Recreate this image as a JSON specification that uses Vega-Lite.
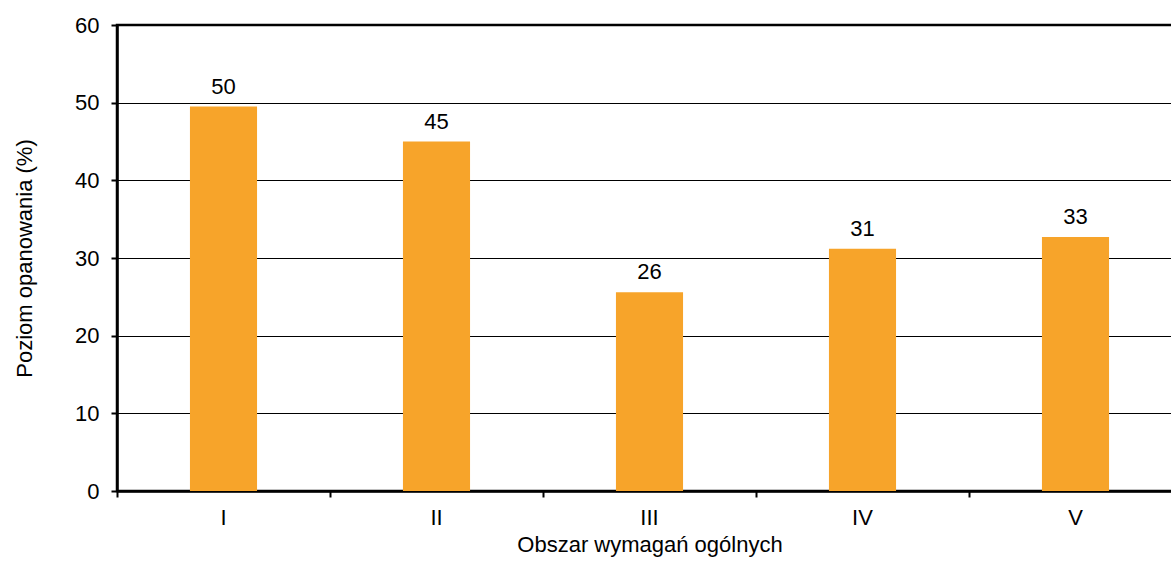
{
  "$schema": "https://vega.github.io/schema/vega-lite/v6.json",
  "autosize": {"type": "none"},
  "width": 1065,
  "height": 466,
  "padding": {"left": 117, "top": 25, "right": 0, "bottom": 70},
  "background": "white",
  "config": {
    "font": "Liberation Sans",
    "view": {"stroke": "black", "strokeWidth": 2.5}
  },
  "data": {
    "values": [
      {"obszar": "I", "value": 49.5, "label": "50"},
      {"obszar": "II", "value": 45.0, "label": "45"},
      {"obszar": "III", "value": 25.6, "label": "26"},
      {"obszar": "IV", "value": 31.2, "label": "31"},
      {"obszar": "V", "value": 32.7, "label": "33"}
    ]
  },
  "encoding": {
    "x": {
      "field": "obszar",
      "type": "nominal",
      "sort": null,
      "scale": {"paddingInner": 0, "paddingOuter": 0},
      "axis": {
        "title": "Obszar wymagań ogólnych",
        "titleFontSize": 22,
        "titleFontWeight": "normal",
        "titleColor": "black",
        "titlePadding": 6,
        "labelAngle": 0,
        "labelFontSize": 22,
        "labelColor": "black",
        "labelPadding": 10,
        "bandPosition": 0,
        "ticks": true,
        "tickColor": "black",
        "tickWidth": 2,
        "tickSize": 6,
        "domainColor": "black",
        "domainWidth": 2.5,
        "grid": false
      }
    }
  },
  "layer": [
    {
      "mark": {"type": "bar", "color": "#F7A42A", "width": {"band": 0.315}},
      "encoding": {
        "y": {
          "field": "value",
          "type": "quantitative",
          "scale": {"domain": [0, 60], "nice": false},
          "axis": {
            "title": "Poziom opanowania (%)",
            "titleFontSize": 22,
            "titleFontWeight": "normal",
            "titleColor": "black",
            "titlePadding": 38,
            "values": [0, 10, 20, 30, 40, 50, 60],
            "labelFontSize": 22,
            "labelColor": "black",
            "labelPadding": 12,
            "tickColor": "black",
            "tickWidth": 2,
            "tickSize": 6,
            "domainColor": "black",
            "domainWidth": 2.5,
            "grid": true,
            "gridColor": "black",
            "gridWidth": 1
          }
        }
      }
    },
    {
      "mark": {"type": "text", "fontSize": 22, "color": "black", "baseline": "bottom", "dy": -8},
      "encoding": {
        "y": {"field": "value", "type": "quantitative"},
        "text": {"field": "label"}
      }
    }
  ]
}
